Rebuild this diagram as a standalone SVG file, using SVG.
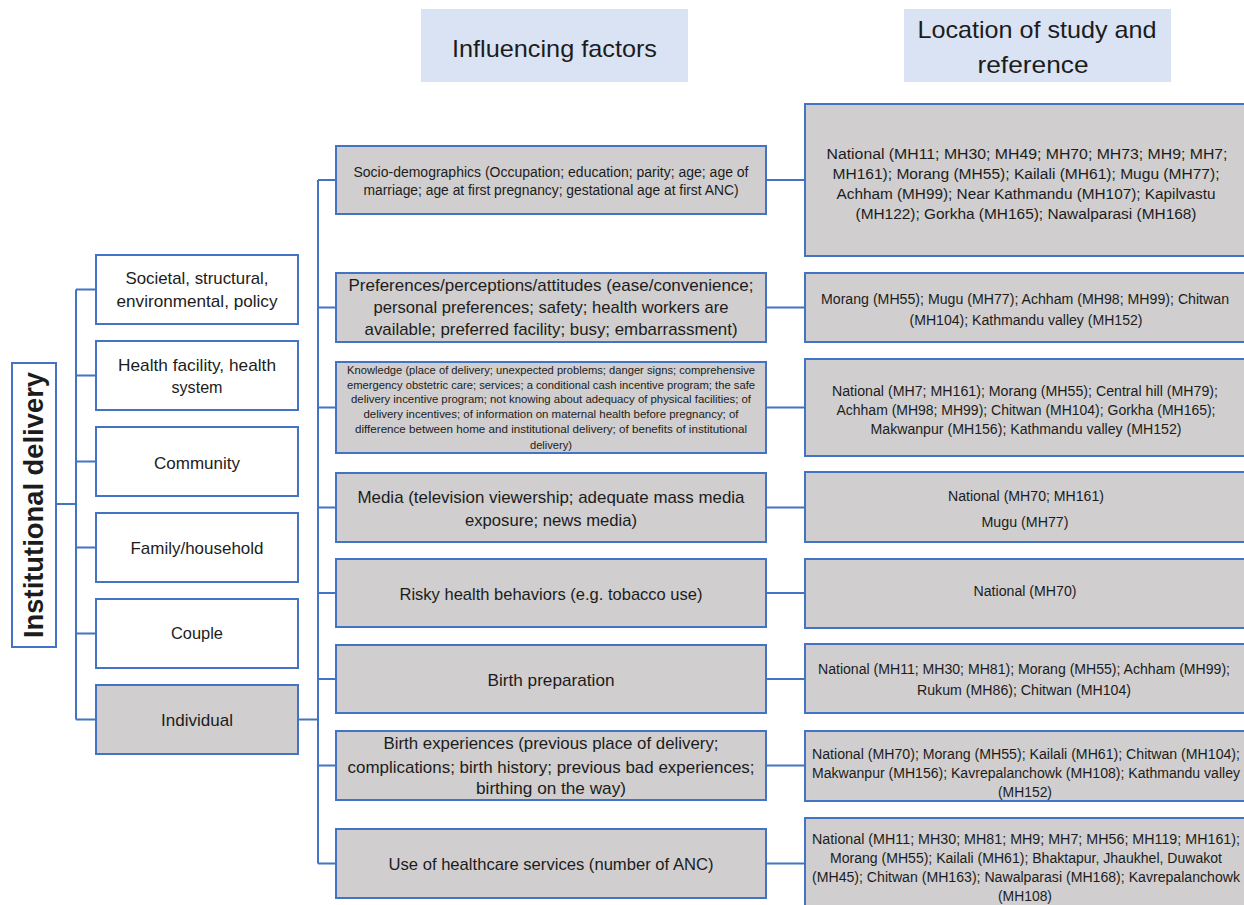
<svg xmlns="http://www.w3.org/2000/svg" width="1244" height="905" viewBox="0 0 1244 905">
  <style>
    .box { fill: #d0cece; stroke: #4472c4; stroke-width: 2; }
    .wbox { fill: #ffffff; stroke: #4472c4; stroke-width: 2; }
    .hdr { fill: #dae3f3; stroke: none; }
    .conn { fill: none; stroke: #4472c4; stroke-width: 2; }
    text { font-family: "Liberation Sans", Arial, sans-serif; fill: #1c1c1c; text-anchor: middle; }
    .h { font-size: 24px; }
    .l { font-size: 17px; }
    .m { font-size: 17px; }
    .ms { font-size: 14px; }
    .mk { font-size: 11.5px; }
    .r { font-size: 14px; }
    .root { font-size: 27px; font-weight: bold; }
  </style>
  <rect width="1244" height="905" fill="#ffffff"/>

  <!-- column headers -->
  <g id="header-factors">
    <rect class="hdr" x="421" y="9" width="267" height="73"/>
    <text class="h" x="554.5" y="57" textLength="205" lengthAdjust="spacingAndGlyphs">Influencing factors</text>
  </g>
  <g id="header-location">
    <rect class="hdr" x="904" y="9" width="267" height="73"/>
    <text class="h" x="1037" y="38" textLength="239" lengthAdjust="spacingAndGlyphs">Location of study and</text>
    <text class="h" x="1033" y="73" textLength="111" lengthAdjust="spacingAndGlyphs">reference</text>
  </g>

  <!-- connectors -->
  <g id="connectors">
    <path class="conn" d="M56,504 H76"/>
    <path class="conn" d="M76,289.5 V719.5"/>
    <path class="conn" d="M76,289.5 H96 M76,375.5 H96 M76,461.5 H96 M76,547.5 H96 M76,633.5 H96 M76,719.5 H96"/>
    <path class="conn" d="M298,719.5 H318"/>
    <path class="conn" d="M318,180 V863.5"/>
    <path class="conn" d="M318,180 H336 M318,307.5 H336 M318,407.5 H336 M318,507.5 H336 M318,593 H336 M318,679 H336 M318,765.5 H336 M318,863.5 H336"/>
    <path class="conn" d="M766,180 H805 M766,307.5 H805 M766,407.5 H805 M766,507.5 H805 M766,593 H805 M766,679 H805 M766,765.5 H805 M766,863.5 H805"/>
  </g>

  <!-- root -->
  <g id="institutional-delivery">
    <rect class="wbox" x="12" y="363" width="44" height="284"/>
    <text class="root" transform="translate(43,505) rotate(-90)" x="0" y="0" textLength="266" lengthAdjust="spacingAndGlyphs">Institutional delivery</text>
  </g>

  <!-- levels -->
  <g id="level-societal">
    <rect class="wbox" x="96" y="255" width="202" height="69"/>
    <text class="l" x="197" y="284" textLength="143" lengthAdjust="spacingAndGlyphs">Societal, structural,</text>
    <text class="l" x="197" y="307" textLength="161" lengthAdjust="spacingAndGlyphs">environmental, policy</text>
  </g>
  <g id="level-health-facility">
    <rect class="wbox" x="96" y="341" width="202" height="69"/>
    <text class="l" x="197" y="371" textLength="158" lengthAdjust="spacingAndGlyphs">Health facility, health</text>
    <text class="l" x="197" y="393" textLength="51" lengthAdjust="spacingAndGlyphs">system</text>
  </g>
  <g id="level-community">
    <rect class="wbox" x="96" y="427" width="202" height="69"/>
    <text class="l" x="197" y="469" textLength="86" lengthAdjust="spacingAndGlyphs">Community</text>
  </g>
  <g id="level-family">
    <rect class="wbox" x="96" y="513" width="202" height="69"/>
    <text class="l" x="197" y="554" textLength="133" lengthAdjust="spacingAndGlyphs">Family/household</text>
  </g>
  <g id="level-couple">
    <rect class="wbox" x="96" y="599" width="202" height="69"/>
    <text class="l" x="197" y="639" textLength="52" lengthAdjust="spacingAndGlyphs">Couple</text>
  </g>
  <g id="level-individual">
    <rect class="box" x="96" y="685" width="202" height="69"/>
    <text class="l" x="197" y="726" textLength="72" lengthAdjust="spacingAndGlyphs">Individual</text>
  </g>

  <!-- individual-level factors -->
  <g id="factor-socio">
    <rect class="box" x="336" y="146" width="430" height="68"/>
    <text class="ms" x="551" y="177" textLength="395" lengthAdjust="spacingAndGlyphs">Socio-demographics (Occupation; education; parity; age; age of</text>
    <text class="ms" x="551" y="195" textLength="375" lengthAdjust="spacingAndGlyphs">marriage; age at first pregnancy; gestational age at first ANC)</text>
  </g>
  <g id="factor-preferences">
    <rect class="box" x="336" y="273" width="430" height="69"/>
    <text class="m" x="551" y="291" textLength="405" lengthAdjust="spacingAndGlyphs">Preferences/perceptions/attitudes (ease/convenience;</text>
    <text class="m" x="551" y="313" textLength="355" lengthAdjust="spacingAndGlyphs">personal preferences; safety; health workers are</text>
    <text class="m" x="551" y="335" textLength="373" lengthAdjust="spacingAndGlyphs">available; preferred facility; busy; embarrassment)</text>
  </g>
  <g id="factor-knowledge">
    <rect class="box" x="336" y="362" width="430" height="91"/>
    <text class="mk" x="551" y="374" textLength="408" lengthAdjust="spacingAndGlyphs">Knowledge (place of delivery; unexpected problems; danger signs; comprehensive</text>
    <text class="mk" x="551" y="389" textLength="408" lengthAdjust="spacingAndGlyphs">emergency obstetric care; services; a conditional cash incentive program; the safe</text>
    <text class="mk" x="551" y="403" textLength="400" lengthAdjust="spacingAndGlyphs">delivery incentive program; not knowing about adequacy of physical facilities; of</text>
    <text class="mk" x="551" y="418" textLength="375" lengthAdjust="spacingAndGlyphs">delivery incentives; of information on maternal health before pregnancy; of</text>
    <text class="mk" x="551" y="433" textLength="392" lengthAdjust="spacingAndGlyphs">difference between home and institutional delivery; of benefits of institutional</text>
    <text class="mk" x="551" y="449" textLength="42" lengthAdjust="spacingAndGlyphs">delivery)</text>
  </g>
  <g id="factor-media">
    <rect class="box" x="336" y="473" width="430" height="69"/>
    <text class="m" x="551" y="503" textLength="387" lengthAdjust="spacingAndGlyphs">Media (television viewership; adequate mass media</text>
    <text class="m" x="551" y="526" textLength="172" lengthAdjust="spacingAndGlyphs">exposure; news media)</text>
  </g>
  <g id="factor-risky">
    <rect class="box" x="336" y="559" width="430" height="68"/>
    <text class="m" x="551" y="600" textLength="303" lengthAdjust="spacingAndGlyphs">Risky health behaviors (e.g. tobacco use)</text>
  </g>
  <g id="factor-birth-preparation">
    <rect class="box" x="336" y="645" width="430" height="68"/>
    <text class="m" x="551" y="686" textLength="127" lengthAdjust="spacingAndGlyphs">Birth preparation</text>
  </g>
  <g id="factor-birth-experiences">
    <rect class="box" x="336" y="731" width="430" height="69"/>
    <text class="m" x="551" y="749" textLength="335" lengthAdjust="spacingAndGlyphs">Birth experiences (previous place of delivery;</text>
    <text class="m" x="551" y="773" textLength="407" lengthAdjust="spacingAndGlyphs">complications; birth history; previous bad experiences;</text>
    <text class="m" x="551" y="794" textLength="150" lengthAdjust="spacingAndGlyphs">birthing on the way)</text>
  </g>
  <g id="factor-healthcare-use">
    <rect class="box" x="336" y="829" width="430" height="69"/>
    <text class="m" x="551" y="870" textLength="325" lengthAdjust="spacingAndGlyphs">Use of healthcare services (number of ANC)</text>
  </g>

  <!-- study locations and references -->
  <g id="loc-socio">
    <rect class="box" x="805" y="104" width="442" height="152"/>
    <text class="r" x="1027" y="159" textLength="401" lengthAdjust="spacingAndGlyphs">National (MH11; MH30; MH49; MH70; MH73; MH9; MH7;</text>
    <text class="r" x="1026" y="179" textLength="387" lengthAdjust="spacingAndGlyphs">MH161); Morang (MH55); Kailali (MH61); Mugu (MH77);</text>
    <text class="r" x="1026" y="199" textLength="379" lengthAdjust="spacingAndGlyphs">Achham (MH99); Near Kathmandu (MH107); Kapilvastu</text>
    <text class="r" x="1026" y="219" textLength="341" lengthAdjust="spacingAndGlyphs">(MH122); Gorkha (MH165); Nawalparasi (MH168)</text>
  </g>
  <g id="loc-preferences">
    <rect class="box" x="805" y="273" width="442" height="69"/>
    <text class="r" x="1025" y="304" textLength="408" lengthAdjust="spacingAndGlyphs">Morang (MH55); Mugu (MH77); Achham (MH98; MH99); Chitwan</text>
    <text class="r" x="1026" y="325" textLength="233" lengthAdjust="spacingAndGlyphs">(MH104); Kathmandu valley (MH152)</text>
  </g>
  <g id="loc-knowledge">
    <rect class="box" x="805" y="359" width="442" height="97"/>
    <text class="r" x="1025" y="396" textLength="386" lengthAdjust="spacingAndGlyphs">National (MH7; MH161); Morang (MH55); Central hill (MH79);</text>
    <text class="r" x="1026" y="415" textLength="379" lengthAdjust="spacingAndGlyphs">Achham (MH98; MH99); Chitwan (MH104); Gorkha (MH165);</text>
    <text class="r" x="1026" y="434" textLength="311" lengthAdjust="spacingAndGlyphs">Makwanpur (MH156); Kathmandu valley (MH152)</text>
  </g>
  <g id="loc-media">
    <rect class="box" x="805" y="472" width="442" height="70"/>
    <text class="r" x="1026" y="501" textLength="156" lengthAdjust="spacingAndGlyphs">National (MH70; MH161)</text>
    <text class="r" x="1025" y="527" textLength="87" lengthAdjust="spacingAndGlyphs">Mugu (MH77)</text>
  </g>
  <g id="loc-risky">
    <rect class="box" x="805" y="559" width="442" height="69"/>
    <text class="r" x="1025" y="596" textLength="103" lengthAdjust="spacingAndGlyphs">National (MH70)</text>
  </g>
  <g id="loc-birth-preparation">
    <rect class="box" x="805" y="644" width="442" height="69"/>
    <text class="r" x="1024" y="674" textLength="412" lengthAdjust="spacingAndGlyphs">National (MH11; MH30; MH81); Morang (MH55); Achham (MH99);</text>
    <text class="r" x="1024" y="695" textLength="214" lengthAdjust="spacingAndGlyphs">Rukum (MH86); Chitwan (MH104)</text>
  </g>
  <g id="loc-birth-experiences">
    <rect class="box" x="805" y="731" width="442" height="70"/>
    <text class="r" x="1026" y="759" textLength="428" lengthAdjust="spacingAndGlyphs">National (MH70); Morang (MH55); Kailali (MH61); Chitwan (MH104);</text>
    <text class="r" x="1026" y="778" textLength="428" lengthAdjust="spacingAndGlyphs">Makwanpur (MH156); Kavrepalanchowk (MH108); Kathmandu valley</text>
    <text class="r" x="1025" y="797" textLength="54" lengthAdjust="spacingAndGlyphs">(MH152)</text>
  </g>
  <g id="loc-healthcare-use">
    <rect class="box" x="805" y="818" width="442" height="92"/>
    <text class="r" x="1026" y="844" textLength="428" lengthAdjust="spacingAndGlyphs">National (MH11; MH30; MH81; MH9; MH7; MH56; MH119; MH161);</text>
    <text class="r" x="1026" y="863" textLength="392" lengthAdjust="spacingAndGlyphs">Morang (MH55); Kailali (MH61); Bhaktapur, Jhaukhel, Duwakot</text>
    <text class="r" x="1026" y="882" textLength="428" lengthAdjust="spacingAndGlyphs">(MH45); Chitwan (MH163); Nawalparasi (MH168); Kavrepalanchowk</text>
    <text class="r" x="1025" y="901" textLength="54" lengthAdjust="spacingAndGlyphs">(MH108)</text>
  </g>
</svg>
